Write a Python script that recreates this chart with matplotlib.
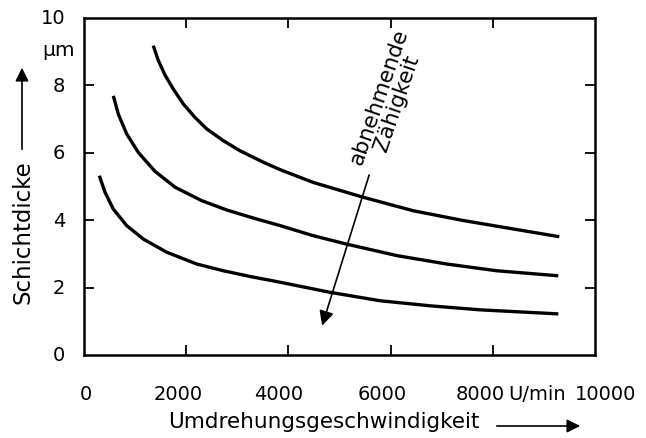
import matplotlib.pyplot as plt
from matplotlib.patches import FancyArrowPatch

# curves (rpm, thickness in um)
rpm_1 = [1356, 1454, 1585, 1748, 1943, 2172, 2401, 2726, 3053, 3509, 3870, 4487, 5466, 6444, 7423, 8401, 9301]
thk_1 = [9.18, 8.74, 8.31, 7.89, 7.45, 7.05, 6.71, 6.36, 6.06, 5.72, 5.48, 5.12, 4.68, 4.28, 3.99, 3.74, 3.51]

rpm_2 = [574, 671, 835, 1063, 1389, 1781, 2303, 2800, 3300, 3836, 4487, 5140, 6119, 7097, 8076, 9282]
thk_2 = [7.69, 7.15, 6.56, 6.01, 5.45, 4.98, 4.58, 4.30, 4.07, 3.84, 3.54, 3.29, 2.95, 2.70, 2.50, 2.35]

rpm_3 = [300, 411, 573, 835, 1161, 1618, 2205, 2726, 3249, 3836, 4814, 5793, 6771, 7750, 9282]
thk_3 = [5.32, 4.83, 4.33, 3.84, 3.44, 3.05, 2.70, 2.50, 2.33, 2.16, 1.86, 1.61, 1.46, 1.34, 1.22]

xticks = [2000, 4000, 6000, 8000]
yticks = [2, 4, 6, 8]
xlabels = ["0", "2000", "4000", "6000", "8000", "U/min", "10000"]
xlabel_pos = [40, 1840, 3800, 5830, 7750, 8860, 10200]
ylabels = ["0", "2", "4", "6", "8", "10"]
ylabel_pos = [0, 2, 4, 6, 8, 10]

plt.rcParams['font.family'] = 'DejaVu Sans'
fig = plt.figure(figsize=(6.46, 4.39), dpi=100)
ax = fig.add_axes([84 / 646, 1 - 356 / 439, (595 - 84) / 646, (356 - 19) / 439])

for x, y in [(rpm_1, thk_1), (rpm_2, thk_2), (rpm_3, thk_3)]:
    ax.plot(x, y, color='black', lw=2.4, solid_capstyle='butt', solid_joinstyle='round')

ax.set_xlim(0, 10000)
ax.set_ylim(0, 10)
ax.set_xticks(xticks)
ax.set_yticks(yticks)
ax.tick_params(direction='in', length=7, width=1.3, top=True, right=True,
               labelbottom=False, labelleft=False)
for s in ax.spines.values():
    s.set_linewidth(1.8)

# tick labels as plain text
for v, lab in zip(xlabel_pos, xlabels):
    ax.text(v, -0.85, lab, ha='center', va='top', fontsize=14)
for v, lab in zip(ylabel_pos, ylabels):
    ax.text(-370, v, lab, ha='right', va='center', fontsize=14)
ax.text(-180, 9.08, "µm", ha='right', va='center', fontsize=14.5)

# trend arrow
ax.annotate("", xy=(4660, 0.87), xytext=(5580, 5.34),
            arrowprops=dict(arrowstyle='-|>', color='black', lw=1.2,
                            mutation_scale=22, shrinkA=0, shrinkB=0))
ax.text(5950, 7.6, "abnehmende\nZähigkeit", rotation=71, ha='center', va='center',
        fontsize=15.5, linespacing=0.95, rotation_mode='anchor')

# axis titles with arrows
fig.text(23 / 646, 1 - 232 / 439, "Schichtdicke", rotation=90, ha='center', va='center', fontsize=16.5)
fig.text(324 / 646, 1 - 422 / 439, "Umdrehungsgeschwindigkeit", ha='center', va='center', fontsize=15.5)
fig.add_artist(FancyArrowPatch(
    (22 / 646, 1 - 153 / 439), (22 / 646, 1 - 66 / 439), transform=fig.transFigure,
    arrowstyle='-|>', mutation_scale=20, color='black', lw=1.2))
fig.add_artist(FancyArrowPatch(
    (494 / 646, 1 - 427 / 439), (583 / 646, 1 - 427 / 439), transform=fig.transFigure,
    arrowstyle='-|>', mutation_scale=20, color='black', lw=1.2))

fig.savefig("out.png", dpi=100)
